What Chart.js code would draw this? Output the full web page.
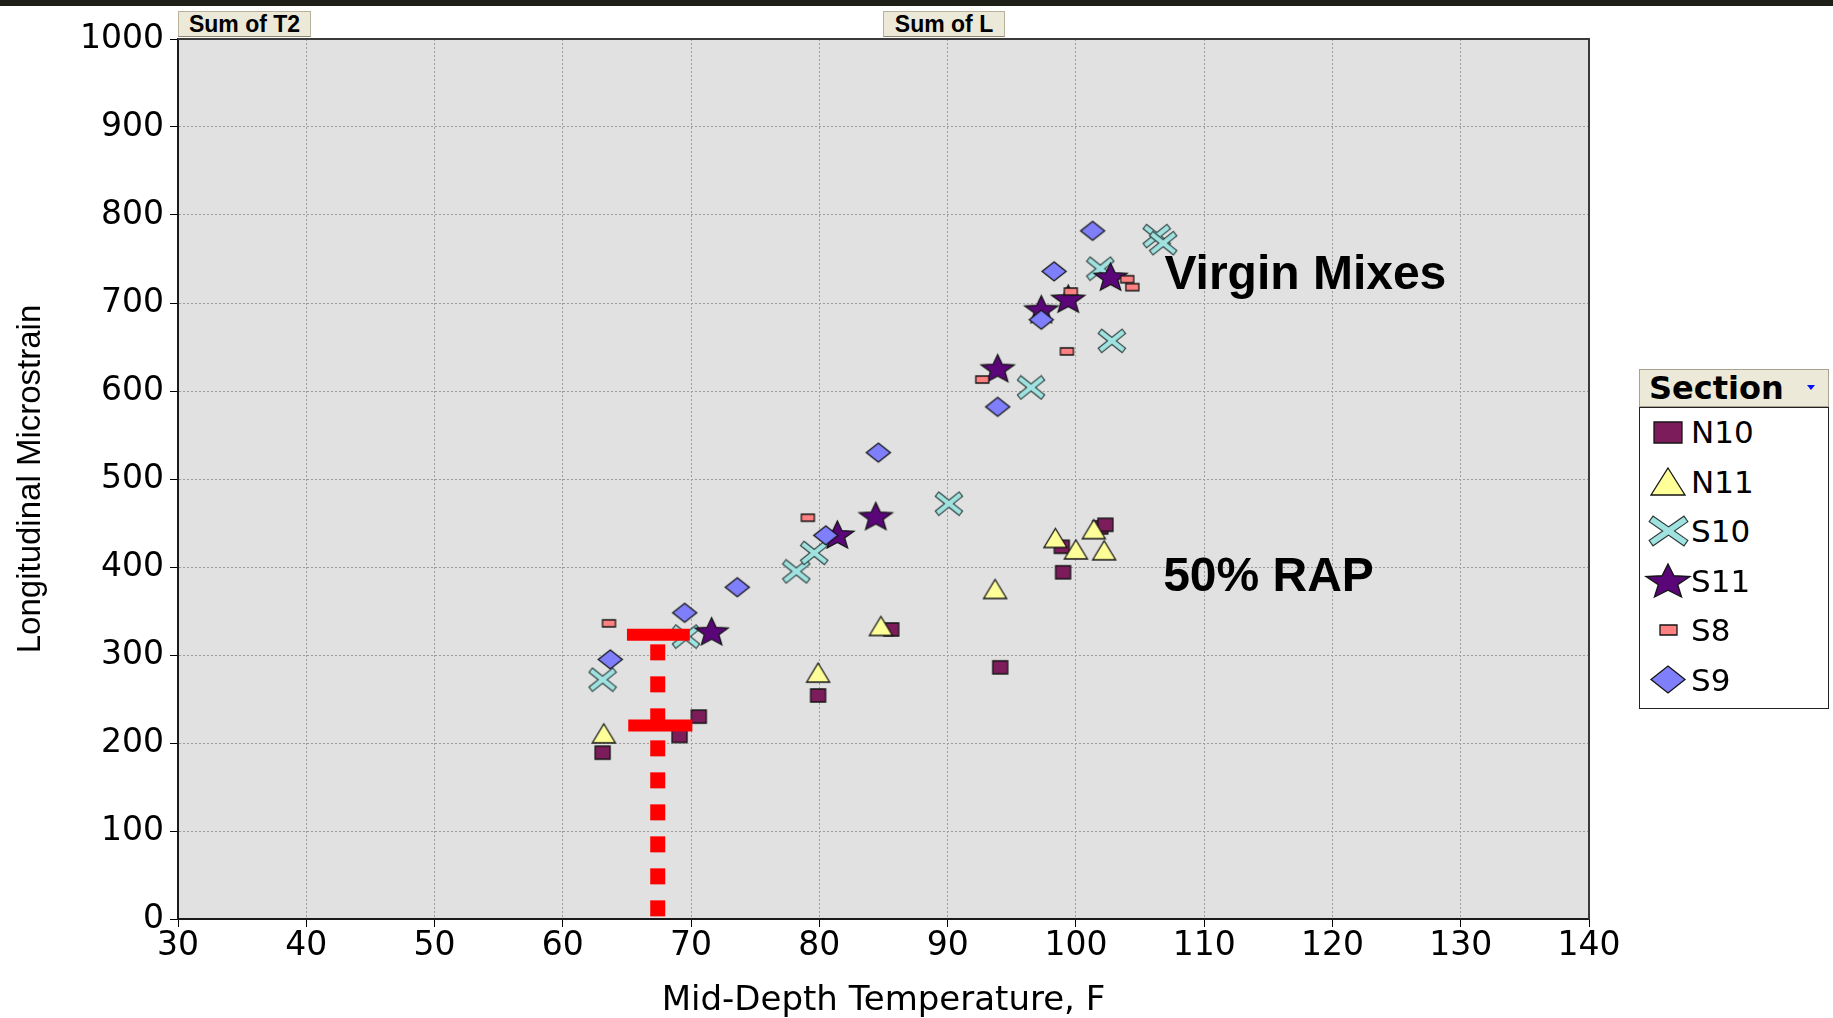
<!DOCTYPE html>
<html>
<head>
<meta charset="utf-8">
<title>Longitudinal Microstrain vs Mid-Depth Temperature</title>
<script src="https://cdn.jsdelivr.net/npm/chart.js@4.4.1/dist/chart.umd.min.js"></script>
<style>
    body { margin: 0; background: #fff; width: 1833px; height: 1018px; overflow: hidden; position: relative; }
    #myChart { position: absolute; left: 0; top: 0; }
    #topStrip { position: absolute; left: 0; top: 0; width: 1833px; height: 6px; background: #1f1f1a; }
    .fieldBtn {
        position: absolute; top: 11px; height: 26px; box-sizing: border-box;
        background: #ece9d8; border: 1px solid #b8b29c; border-bottom-color: #8c8670;
        font: bold 23px "Liberation Sans", Arial, sans-serif; line-height: 25px; text-align: center; color: #000;
    }
    #legend { position: absolute; left: 1639px; top: 369px; width: 190px; }
    #legend .head {
        height: 38px; box-sizing: border-box; background: #ece9d8; border: 1px solid #a8a290;
        font: bold 32px "DejaVu Sans", sans-serif; line-height: 36px; padding-left: 9px; position: relative;
    }
    #legend .arrow {
        position: absolute; left: 167px; top: 15px; width: 0; height: 0;
        border-left: 4px solid transparent; border-right: 4px solid transparent; border-top: 5px solid #0010ff;
    }
    #legend .body { height: 302px; box-sizing: border-box; border: 1px solid #222; background: #fff; position: relative; }
    #legend .row { position: absolute; left: 0; height: 40px; width: 188px; }
    #legend .row canvas { position: absolute; }
    #legend .row span { position: absolute; left: 51px; top: 0; font: 31px "DejaVu Sans", sans-serif; line-height: 40px; color: #000; }
</style>
</head>
<body>
<canvas id="myChart" width="1833" height="1018"></canvas>
<div id="topStrip"></div>
<div class="fieldBtn" style="left:178px;width:133px;">Sum of T2</div>
<div class="fieldBtn" style="left:883px;width:122px;">Sum of L</div>
<div id="legend">
    <div class="head">Section<span class="arrow"></span></div>
    <div class="body" id="legendBody"></div>
</div>
<script>
// mid-depth temperature (F) and longitudinal microstrain per section
let n10Temp = [63.1, 69.1, 70.6, 79.9, 85.6, 94.1, 98.9, 99.0, 101.9, 102.3];
let n10Strain = [189, 208, 230, 254, 329, 286, 423, 394, 445, 448];

let n11Temp = [63.2, 79.9, 84.8, 93.7, 98.4, 100.0, 101.4, 102.2];
let n11Strain = [211, 280, 333, 375, 433, 420, 443, 419];

let s10Temp = [63.1, 69.6, 78.2, 79.6, 90.1, 96.5, 101.9, 102.8, 106.3, 106.8];
let s10Strain = [272, 321, 395, 416, 472, 604, 739, 657, 776, 768];

let s11Temp = [71.6, 81.4, 84.4, 93.9, 97.3, 99.4, 102.7];
let s11Strain = [327, 437, 458, 626, 693, 705, 730];

let s8Temp = [63.6, 79.1, 92.7, 99.3, 99.6, 104.0, 104.4];
let s8Strain = [336, 456, 613, 645, 713, 727, 718];

let s9Temp = [63.7, 69.5, 73.6, 80.5, 84.6, 93.9, 97.3, 98.3, 101.3];
let s9Strain = [295, 348, 377, 436, 530, 582, 681, 736, 782];

// reference temperature with the two strain levels marked on it
let refTemp = 67.4;
let refStrainHigh = 323;
let refStrainLow = 220;
let refBarFrom = [65.0, 65.1];
let refBarTo = [69.9, 70.1];

let xTicks = { min: 30, max: 140, step: 10 };
let yTicks = { min: 0, max: 1000, step: 100 };

let notes = [
    { text: "Virgin Mixes", temp: 106.9, strain: 731 },
    { text: "50% RAP", temp: 106.8, strain: 388 }
];

// builds a small canvas used as a point marker
function makeMarker(shape, w, h, fill) {
    const pad = 3;
    const c = document.createElement("canvas");
    c.width = Math.round(w + pad * 2);
    c.height = Math.round(h + pad * 2);
    const g = c.getContext("2d");
    g.translate(pad, pad);
    g.fillStyle = fill;
    g.strokeStyle = "#141414";
    g.lineWidth = 1.3;
    g.lineJoin = "miter";
    g.beginPath();
    if (shape === "square") {
        g.rect(0, 0, w, h);
    } else if (shape === "triangle") {
        g.moveTo(w / 2, 0);
        g.lineTo(w, h);
        g.lineTo(0, h);
        g.closePath();
    } else if (shape === "diamond") {
        g.moveTo(w / 2, 0);
        g.lineTo(w, h / 2);
        g.lineTo(w / 2, h);
        g.lineTo(0, h / 2);
        g.closePath();
    } else if (shape === "star") {
        const rx = w / 1.902, ry = h / 1.809;
        for (let i = 0; i < 10; i++) {
            const a = -Math.PI / 2 + i * Math.PI / 5;
            const r = i % 2 ? 0.44 : 1;
            g.lineTo(w / 2 + Math.cos(a) * rx * r, ry + Math.sin(a) * ry * r);
        }
        g.closePath();
    } else if (shape === "cross") {
        const t = Math.min(w, h) * 0.22;
        const ins = t * 0.5;
        const arms = () => {
            g.beginPath();
            g.moveTo(ins, ins); g.lineTo(w - ins, h - ins);
            g.moveTo(w - ins, ins); g.lineTo(ins, h - ins);
        };
        g.lineCap = "square";
        arms();
        g.lineWidth = t + 2.2;
        g.strokeStyle = "#2a3a3a";
        g.stroke();
        arms();
        g.lineWidth = t;
        g.strokeStyle = fill;
        g.stroke();
        return c;
    }
    g.fill();
    g.stroke();
    return c;
}

function toPoints(xs, ys) {
    return xs.map((x, i) => ({ x: x, y: ys[i] }));
}

let series = [
    { label: "N10", temp: n10Temp, strain: n10Strain, shape: "square", color: "#7d1c5b", size: [15, 13], legendSize: [28, 21] },
    { label: "N11", temp: n11Temp, strain: n11Strain, shape: "triangle", color: "#ffff99", size: [23, 19], legendSize: [34, 27] },
    { label: "S10", temp: s10Temp, strain: s10Strain, shape: "cross", color: "#a0e2df", size: [24, 20], legendSize: [35, 26] },
    { label: "S11", temp: s11Temp, strain: s11Strain, shape: "star", color: "#5a0679", size: [33, 27], legendSize: [44, 33] },
    { label: "S8", temp: s8Temp, strain: s8Strain, shape: "square", color: "#ff8080", size: [13, 7], legendSize: [17, 10] },
    { label: "S9", temp: s9Temp, strain: s9Strain, shape: "diamond", color: "#7f7ffb", size: [24, 19], legendSize: [34, 27] }
];

let datasets = series.map((s, i) => ({
    label: s.label,
    data: toPoints(s.temp, s.strain),
    pointStyle: makeMarker(s.shape, s.size[0], s.size[1], s.color),
    pointRadius: 6,
    pointHoverRadius: 6,
    order: series.length - i
}));

let redLine = {
    showLine: true,
    borderColor: "#ff0000",
    backgroundColor: "#ff0000",
    pointRadius: 0,
    borderCapStyle: "butt",
    order: 0
};

datasets.push(Object.assign({}, redLine, {
    label: "ref",
    data: [{ x: refTemp, y: 3 }, { x: refTemp, y: refStrainHigh }],
    borderWidth: 15,
    borderDash: [16, 16]
}));
datasets.push(Object.assign({}, redLine, {
    label: "refHigh",
    data: [{ x: refBarFrom[0], y: refStrainHigh }, { x: refBarTo[0], y: refStrainHigh }],
    borderWidth: 12
}));
datasets.push(Object.assign({}, redLine, {
    label: "refLow",
    data: [{ x: refBarFrom[1], y: refStrainLow }, { x: refBarTo[1], y: refStrainLow }],
    borderWidth: 12
}));

// grey plot area, closing frame and the two group notes
const plotDecor = {
    id: "plotDecor",
    beforeDraw(chart) {
        const a = chart.chartArea, c = chart.ctx;
        c.save();
        c.fillStyle = "#e1e1e1";
        c.fillRect(a.left, a.top, a.right - a.left, a.bottom - a.top);
        c.restore();
    },
    afterDraw(chart) {
        const a = chart.chartArea, c = chart.ctx;
        c.save();
        c.strokeStyle = "#3a3a3a";
        c.lineWidth = 2;
        c.beginPath();
        c.moveTo(a.left, a.top);
        c.lineTo(a.right, a.top);
        c.lineTo(a.right, a.bottom);
        c.stroke();
        c.fillStyle = "#000";
        c.font = "bold 48px 'Liberation Sans', Arial, sans-serif";
        c.textAlign = "left";
        c.textBaseline = "middle";
        notes.forEach(n => {
            c.fillText(n.text, chart.scales.x.getPixelForValue(n.temp), chart.scales.y.getPixelForValue(n.strain));
        });
        c.restore();
    }
};

Chart.defaults.font.family = "'DejaVu Sans', sans-serif";
Chart.defaults.color = "#000";

let config = {
    type: "scatter",
    data: { datasets: datasets },
    options: {
        responsive: false,
        animation: false,
        events: [],
        layout: { padding: { top: 39, right: 244, bottom: 0, left: 0 } },
        plugins: {
            legend: { display: false },
            tooltip: { enabled: false }
        },
        scales: {
            x: {
                type: "linear",
                min: xTicks.min,
                max: xTicks.max,
                ticks: { stepSize: xTicks.step, font: { size: 33 }, padding: 0, color: "#000", callback: v => String(v) },
                grid: { color: "#9c9c9c", tickColor: "#000", tickLength: 8, tickBorderDash: [], lineWidth: 1 },
                border: { color: "#1a1a1a", width: 2, dash: [2, 2] },
                title: {
                    display: true,
                    text: "Mid-Depth Temperature, F",
                    font: { size: 34, lineHeight: 1 },
                    padding: { top: 0, bottom: 0 },
                    color: "#000"
                },
                afterFit(scale) { scale.height = 99; }
            },
            y: {
                type: "linear",
                min: yTicks.min,
                max: yTicks.max,
                ticks: { stepSize: yTicks.step, font: { size: 33 }, padding: 6, color: "#000", callback: v => String(v) },
                grid: { color: "#9c9c9c", tickColor: "#000", tickLength: 8, tickBorderDash: [], lineWidth: 1 },
                border: { color: "#1a1a1a", width: 2, dash: [2, 2] },
                title: {
                    display: true,
                    text: "Longitudinal Microstrain",
                    font: { size: 33, family: "'Liberation Sans', Arial, sans-serif", lineHeight: 1.2 },
                    padding: { top: 11, bottom: 0 },
                    color: "#000"
                },
                afterFit(scale) { scale.width = 178; }
            }
        }
    },
    plugins: [plotDecor]
};

let ctx = document.getElementById("myChart").getContext("2d");
let myChart = new Chart(ctx, config);

// legend with the same markers, drawn larger
let legendBody = document.getElementById("legendBody");
series.forEach((s, i) => {
    let row = document.createElement("div");
    row.className = "row";
    row.style.top = (4 + i * 49.5) + "px";
    let mark = makeMarker(s.shape, s.legendSize[0], s.legendSize[1], s.color);
    mark.style.left = (28 - mark.width / 2) + "px";
    mark.style.top = (20 - mark.height / 2) + "px";
    row.appendChild(mark);
    let label = document.createElement("span");
    label.textContent = s.label;
    row.appendChild(label);
    legendBody.appendChild(row);
});
</script>
</body>
</html>
